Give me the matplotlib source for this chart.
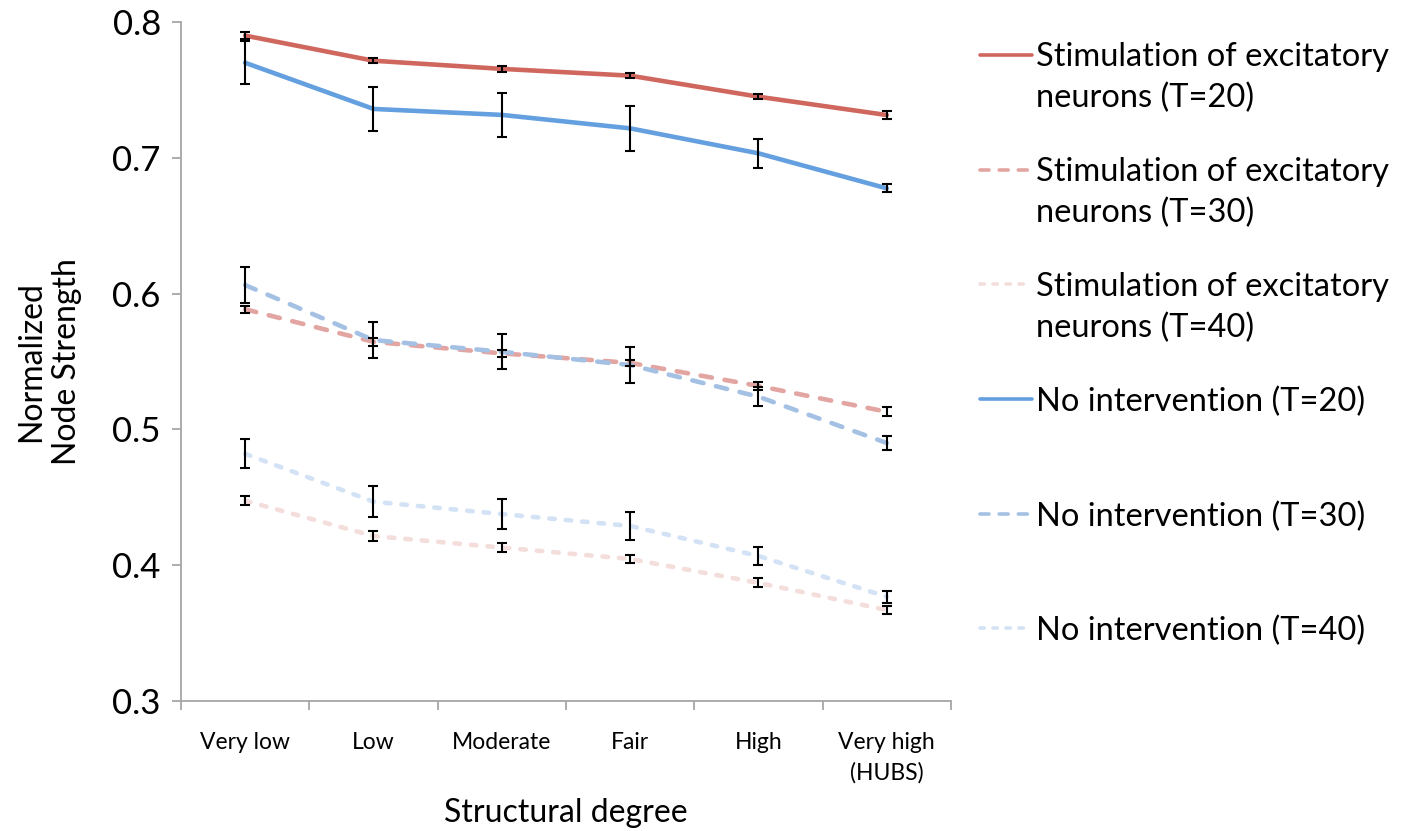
import numpy as np
import matplotlib
matplotlib.use("Agg")
import matplotlib.pyplot as plt
from matplotlib.legend_handler import HandlerLine2D

plt.rcParams['font.family'] = ['Lato', 'DejaVu Sans']

categories = ['Very low', 'Low', 'Moderate', 'Fair', 'High', 'Very high\n(HUBS)']

stim_t20 = [0.790, 0.7715, 0.7655, 0.7605, 0.745, 0.7315]
stim_t20_err = [0.0025, 0.0018, 0.002, 0.002, 0.002, 0.003]
stim_t30 = [0.5885, 0.5645, 0.556, 0.549, 0.532, 0.513]
stim_t30_err = [0.0025, 0.003, 0.0025, 0.002, 0.003, 0.0033]
stim_t40 = [0.4475, 0.4215, 0.413, 0.4046, 0.387, 0.367]
stim_t40_err = [0.0033, 0.0036, 0.0034, 0.0028, 0.0033, 0.003]

none_t20 = [0.770, 0.736, 0.7316, 0.7217, 0.7033, 0.6775]
none_t20_err = [0.016, 0.0163, 0.0163, 0.0168, 0.0107, 0.003]
none_t30 = [0.6063, 0.5658, 0.5572, 0.5474, 0.5241, 0.490]
none_t30_err = [0.0135, 0.0135, 0.0128, 0.013, 0.007, 0.005]
none_t40 = [0.482, 0.4468, 0.4377, 0.4289, 0.4068, 0.3768]
none_t40_err = [0.0107, 0.0114, 0.011, 0.0104, 0.0065, 0.0045]

labels = ['Stimulation of excitatory\nneurons (T=20)',
          'Stimulation of excitatory\nneurons (T=30)',
          'Stimulation of excitatory\nneurons (T=40)',
          'No intervention (T=20)\n ',
          'No intervention (T=30)\n ',
          'No intervention (T=40)\n ']

series = [
    (stim_t20, stim_t20_err, '#d0675f', None),
    (stim_t30, stim_t30_err, '#e3a5a1', (2.5, 2.8)),
    (stim_t40, stim_t40_err, '#f3dedc', (1.2, 2.4)),
    (none_t20, none_t20_err, '#64a0df', None),
    (none_t30, none_t30_err, '#a4c1e4', (2.5, 2.8)),
    (none_t40, none_t40_err, '#d3e3f5', (1.2, 2.4)),
]

LEG_FS = 23.5
LINESP = 1.45


class FirstLineHandler(HandlerLine2D):
    # put the legend line next to the first text line, not the middle
    def create_artists(self, legend, orig_handle, xdescent, ydescent,
                       width, height, fontsize, trans):
        arts = super().create_artists(legend, orig_handle, xdescent, ydescent,
                                      width, height, fontsize, trans)
        for a in arts:
            a.set_ydata(np.asarray(a.get_ydata()) + 0.5 * LINESP * fontsize)
        return arts


fig = plt.figure(figsize=(14.02, 8.31), dpi=100)
ax = fig.add_axes([0.1291, 0.1564, 0.5492, 0.8171])

x = np.arange(len(categories))
handles = []
for (vals, err, col, dash), lab in zip(series, labels):
    ln, = ax.plot(x, vals, color=col, lw=3.3, label=lab, zorder=2,
                  solid_capstyle='round', dash_capstyle='round')
    if dash is not None:
        ln.set_dashes(dash)
    handles.append(ln)
    ax.errorbar(x, vals, yerr=err, fmt='none', ecolor='black', elinewidth=1.5,
                capsize=3.6, capthick=1.5, zorder=3)

ax.set_xlim(-0.5, len(categories) - 0.5)
ax.set_ylim(0.3, 0.8)
ax.set_yticks(np.arange(0.3, 0.81, 0.1))
ax.set_yticklabels(['%.1f' % v for v in np.arange(0.3, 0.81, 0.1)])
ax.set_xticks(x)
ax.set_xticklabels(categories, fontsize=16.5, linespacing=1.55)
ax.set_xticks(np.arange(-0.5, len(categories), 1.0), minor=True)

for side in ['top', 'right']:
    ax.spines[side].set_visible(False)
for side in ['left', 'bottom']:
    ax.spines[side].set_color('#a6a6a6')
    ax.spines[side].set_linewidth(1.3)

ax.tick_params(axis='y', which='major', direction='out', length=6.5,
               width=1.3, color='#a6a6a6', labelsize=25, pad=8)
ax.tick_params(axis='x', which='major', length=0, pad=22)
ax.tick_params(axis='x', which='minor', direction='out', length=6.5,
               width=1.3, color='#a6a6a6')

ax.set_xlabel('Structural degree', fontsize=23)
ax.xaxis.set_label_coords(0.5, -0.143)
ax.xaxis.label.set_va('top')
ax.set_ylabel('Normalized\nNode Strength', fontsize=23, linespacing=1.25)
ax.yaxis.set_label_coords(-0.128, 0.5)

leg = ax.legend(handles=handles, labels=labels, loc='upper left',
                bbox_to_anchor=(980 / 1402, 1 - 42 / 831),
                bbox_transform=fig.transFigure, frameon=False,
                fontsize=LEG_FS, borderpad=0, borderaxespad=0,
                handlelength=1.6, handletextpad=0.13, labelspacing=1.33,
                handler_map={matplotlib.lines.Line2D: FirstLineHandler()})
for t in leg.get_texts():
    t.set_linespacing(LINESP)
for h in leg.get_lines():
    h.set_linewidth(2.6)

fig.savefig('out.png', dpi=100)
